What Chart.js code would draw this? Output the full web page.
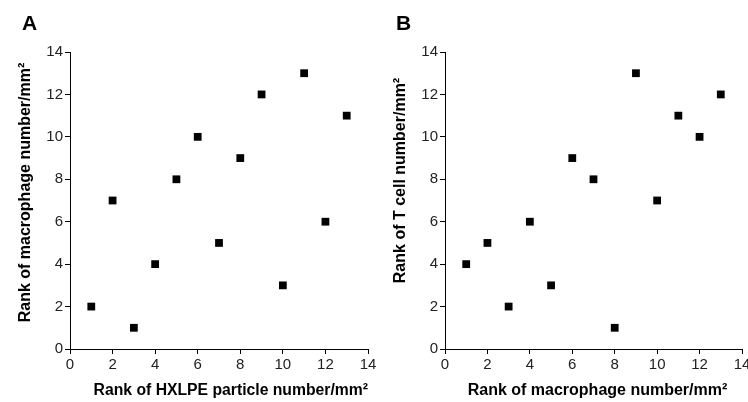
<!DOCTYPE html>
<html><head><meta charset="utf-8">
<script src="https://cdn.jsdelivr.net/npm/chart.js@4"></script>
<style>
html,body{margin:0;padding:0;background:#fff;}
#wrap{position:relative;width:748px;height:402px;overflow:hidden;}
.cv{position:absolute;top:0;}
.lbl{position:absolute;font:bold 21px "Liberation Sans",Arial,sans-serif;line-height:1;color:#000;}
</style></head>
<body>
<div id="wrap">
  <div class="cv" style="left:0;width:390px;height:402px"><canvas id="cA"></canvas></div>
  <div class="cv" style="left:375px;width:380px;height:402px"><canvas id="cB"></canvas></div>
  <div class="lbl" style="left:22px;top:12px">A</div>
  <div class="lbl" style="left:396px;top:12px">B</div>
</div>
<script>
// Panel A
const hxlpeRank = [1,2,3,4,5,6,7,8,9,10,11,12,13];
const macroRankA = [2,7,1,4,8,10,5,9,12,3,13,6,11];
// Panel B
const macroRankB = [1,2,3,4,5,6,7,8,9,10,11,12,13];
const tcellRank = [4,5,2,6,3,9,8,1,13,7,11,10,12];
const axisMin = 0, axisMax = 14, axisStep = 2;
const titlesA = {x:'\u2002\u2002\u2002Rank of HXLPE particle number/mm\u00B2', y:'\u2002\u2002Rank of macrophage number/mm\u00B2'};
const titlesB = {x:'\u2002Rank of macrophage number/mm\u00B2', y:'\u2002\u2002\u2002\u2002\u2002Rank of T cell number/mm\u00B2'};

const FONT = '"Liberation Sans", Arial, sans-serif';

function makeChart(id, xs, ys, titles, padRight, yWidth) {
  const pts = xs.map((x,i)=>({x:x, y:ys[i]}));
  return new Chart(document.getElementById(id), {
    type:'scatter',
    data:{datasets:[{data:pts, backgroundColor:'#000', borderWidth:0, pointStyle:'rect', pointRadius:5.5, pointHoverRadius:5.5}]},
    options:{
      responsive:true, maintainAspectRatio:false, animation:false,
      layout:{padding:{top:52, left:0, right:padRight, bottom:0}},
      plugins:{legend:{display:false}, tooltip:{enabled:false}},
      scales:{
        x:{type:'linear', min:axisMin, max:axisMax,
           ticks:{stepSize:axisStep, color:'#222', font:{family:FONT, size:15}, padding:2, maxRotation:0},
           grid:{drawOnChartArea:false, drawTicks:true, tickLength:5, color:'#000'},
           border:{display:true, color:'#000', width:1},
           title:{display:true, text:titles.x, color:'#000', font:{family:FONT, size:16, weight:'bold'}, padding:{top:4,bottom:2}},
           afterFit:s=>{s.height=53;}
        },
        y:{type:'linear', min:axisMin, max:axisMax,
           ticks:{stepSize:axisStep, color:'#222', font:{family:FONT, size:15}, padding:2},
           grid:{drawOnChartArea:false, drawTicks:true, tickLength:5, color:'#000'},
           border:{display:true, color:'#000', width:1},
           title:{display:true, text:titles.y, color:'#000', font:{family:FONT, size:16, weight:'bold'}, padding:{top:15.5,bottom:4}},
           afterFit:s=>{s.width=yWidth;}
        }
      }
    }
  });
}
makeChart('cA', hxlpeRank, macroRankA, titlesA, 22, 70);
makeChart('cB', macroRankB, tcellRank, titlesB, 13, 70);
</script>
</body></html>
